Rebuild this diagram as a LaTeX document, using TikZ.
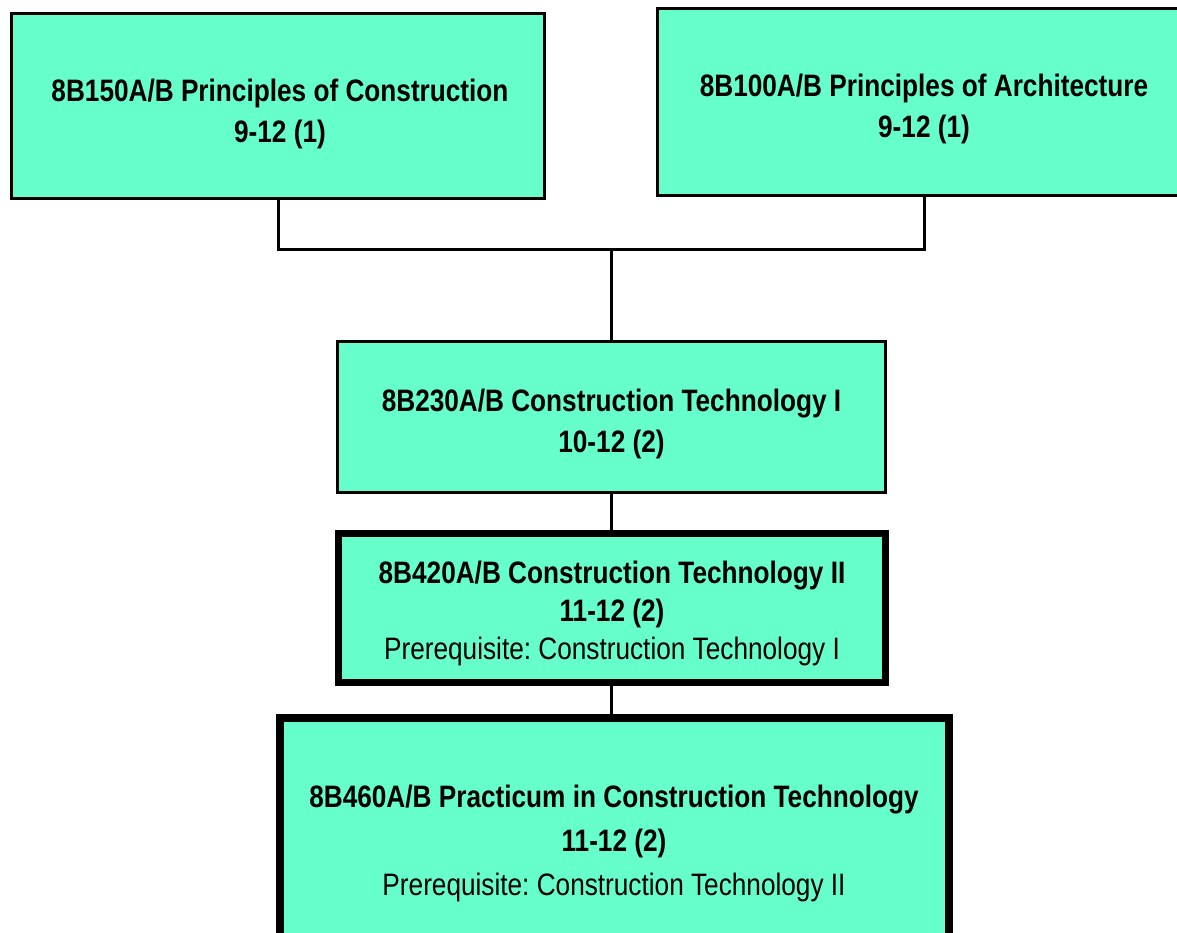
\documentclass[tikz,border=0pt]{standalone}
\usepackage{fontspec}
\setmainfont{Liberation Sans}[FakeStretch=0.845]
\frenchspacing
\definecolor{boxfill}{HTML}{66FFCC}
\tikzset{
  course/.style={draw=black, fill=boxfill, line width=3pt, rectangle, inner sep=0pt},
  heavy/.style={course, line width=7pt},
  heavier/.style={course, line width=8pt},
  label2/.style={align=center, inner sep=0pt, font=\fontsize{31}{41}\selectfont},
  label3/.style={align=center, inner sep=0pt, font=\fontsize{31}{38}\selectfont},
  label3w/.style={align=center, inner sep=0pt, font=\fontsize{31}{44}\selectfont},
  link/.style={draw=black, line width=3pt}
}
\begin{document}
\begin{tikzpicture}[x=1pt,y=-1pt]
\useasboundingbox (0,0) rectangle (1177,933);
\node[course, minimum width=533pt, minimum height=185pt] (b1) at (278,106) {};
\node[course, minimum width=533pt, minimum height=187pt] (b2) at (924,102) {};
\node[course, minimum width=548pt, minimum height=151pt] (b3) at (611.5,417) {};
\node[heavy, minimum width=547pt, minimum height=149pt] (b4) at (612,608) {};
\node[heavier, minimum width=669pt, minimum height=244pt] (b5) at (614.5,840) {};
\node[label2] (t1) at (280,113.5)
  {\textbf{8B150A/B Principles of Construction}\\\textbf{9-12 (1)}};
\node[label2] (t2) at (924,109)
  {\textbf{8B100A/B Principles of Architecture}\\\textbf{9-12 (1)}};
\node[label2] (t3) at (611.5,424)
  {\textbf{8B230A/B Construction Technology I}\\\textbf{10-12 (2)}};
\node[label3] (t4) at (612,613.5)
  {\textbf{8B420A/B Construction Technology II}\\\textbf{11-12 (2)}\\Prerequisite: Construction Technology I};
\node[label3w] (t5) at (614,843)
  {\textbf{8B460A/B Practicum in Construction Technology}\\\textbf{11-12 (2)}\\Prerequisite: Construction Technology II};
\coordinate (j) at (611,250);
\draw[link] (b1.south) |- (j) -| (b2.south);
\draw[link] (j) -- (j |- b3.north);
\draw[link] (j |- b3.south) -- (j |- b4.north);
\draw[link] (j |- b4.south) -- (j |- b5.north);
\end{tikzpicture}
\end{document}
